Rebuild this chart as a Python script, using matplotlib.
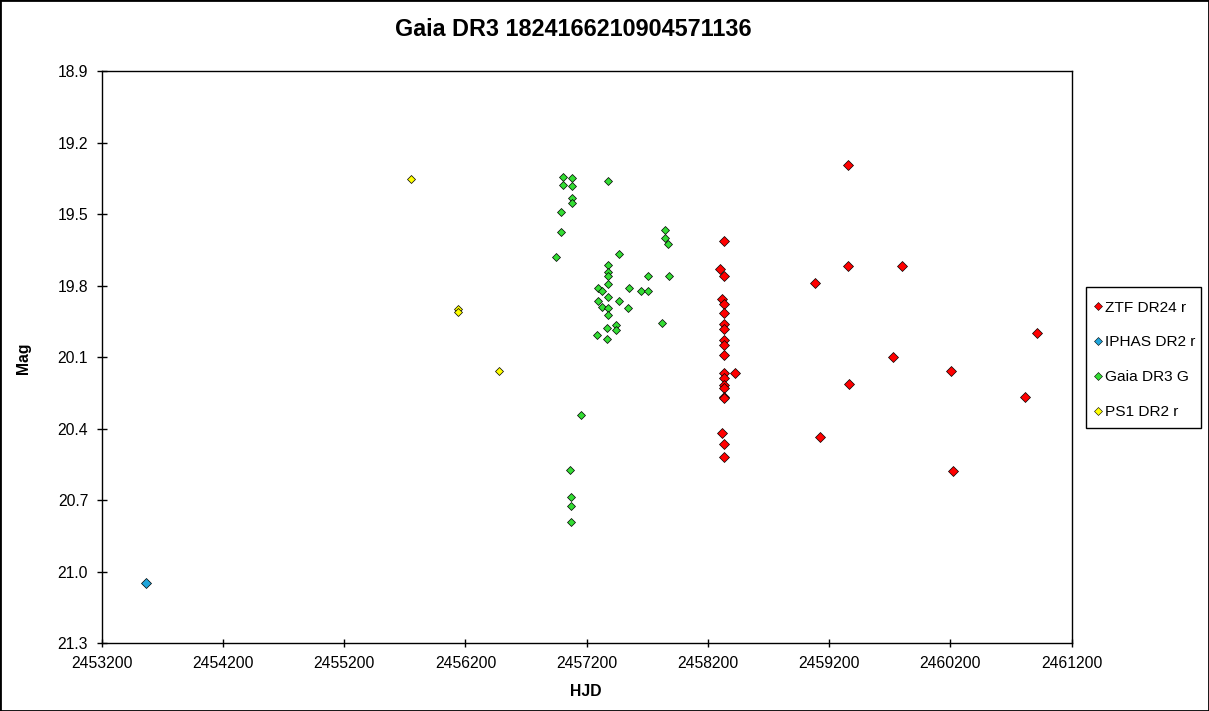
import matplotlib
matplotlib.use("Agg")
import matplotlib.pyplot as plt
from matplotlib.patches import Rectangle
from matplotlib.ticker import FormatStrFormatter, MultipleLocator
from matplotlib.lines import Line2D

plt.rcParams['font.family'] = ['Liberation Sans', 'DejaVu Sans']

# ZTF DR24 r
ztf_hjd = [2458335, 2458299, 2458335, 2458318, 2458335, 2458335, 2458335, 2458335,
           2458335, 2458335, 2458335, 2458335, 2458421, 2458335, 2458335, 2458335,
           2458335, 2458335, 2458318, 2458335, 2458335,
           2459358, 2459358, 2459803, 2459085, 2460914, 2459729, 2460207, 2459366,
           2460817, 2459122, 2460221]
ztf_mag = [19.611, 19.731, 19.758, 19.857, 19.878, 19.916, 19.962, 19.983,
           20.028, 20.050, 20.092, 20.167, 20.165, 20.188, 20.218, 20.228,
           20.266, 20.272, 20.419, 20.464, 20.517,
           19.294, 19.718, 19.718, 19.790, 19.999, 20.100, 20.159, 20.213,
           20.268, 20.436, 20.579]

# IPHAS DR2 r
iphas_hjd = [2453563]
iphas_mag = [21.046]

# Gaia DR3 G
gaia_hjd = [2457007, 2457081, 2457378, 2457007, 2457081, 2457081, 2457081, 2456988,
            2456988, 2457848, 2457848, 2457870, 2456947, 2457466, 2457378, 2457378,
            2457378, 2457378, 2457708, 2457876, 2457296, 2457329, 2457551, 2457648,
            2457708, 2457373, 2457296, 2457466, 2457329, 2457373, 2457543, 2457373,
            2457823, 2457444, 2457444, 2457370, 2457282, 2457370, 2457155, 2457065,
            2457073, 2457073, 2457073]
gaia_mag = [19.345, 19.349, 19.359, 19.376, 19.383, 19.430, 19.454, 19.492,
            19.576, 19.566, 19.601, 19.626, 19.678, 19.668, 19.714, 19.742,
            19.759, 19.793, 19.760, 19.760, 19.809, 19.823, 19.811, 19.823,
            19.823, 19.848, 19.864, 19.865, 19.889, 19.893, 19.893, 19.924,
            19.957, 19.965, 19.986, 19.978, 20.008, 20.022, 20.344, 20.574,
            20.688, 20.723, 20.790]

# PS1 DR2 r
ps1_hjd = [2455753, 2456141, 2456141, 2456479]
ps1_mag = [19.353, 19.897, 19.911, 20.156]

x_ticks = [2453200, 2454200, 2455200, 2456200, 2457200, 2458200, 2459200, 2460200, 2461200]

W, H = 1209, 711
fig = plt.figure(figsize=(12.09, 7.11), dpi=100)
ax = fig.add_axes([101.7 / W, 1 - 643.3 / H, 970 / W, 572 / H])

# plot series
ax.plot(ps1_hjd, ps1_mag, 'D', ms=4.1, mfc='#FFFF00', mec='black', mew=0.5, ls='none')
ax.plot(gaia_hjd, gaia_mag, 'D', ms=4.1, mfc='#33DD33', mec='black', mew=0.5, ls='none')
ax.plot(iphas_hjd, iphas_mag, 'D', ms=5.1, mfc='#1FA5DB', mec='black', mew=0.5, ls='none')
ax.plot(ztf_hjd, ztf_mag, 'D', ms=5.1, mfc='#FF0000', mec='black', mew=0.5, ls='none')

ax.set_xlim(2453200, 2461200)
ax.set_ylim(21.3, 18.9)
ax.set_xticks(x_ticks)
ax.set_xticklabels([str(t) for t in x_ticks])
ax.yaxis.set_major_locator(MultipleLocator(0.3))
ax.yaxis.set_major_formatter(FormatStrFormatter('%.1f'))
ax.tick_params(axis='x', direction='inout', length=6, width=1, labelsize=11.3, pad=6)
ax.tick_params(axis='y', direction='inout', length=7.5, width=1, labelsize=11.3, pad=6)
for s in ax.spines.values():
    s.set_linewidth(1)

fig.text(573 / W, 1 - 29 / H, 'Gaia DR3 1824166210904571136', ha='center', va='center',
         fontsize=16.8, fontweight='bold')
fig.text(586 / W, 1 - 692 / H, 'HJD', ha='center', va='center', fontsize=11.3, fontweight='bold')
fig.text(23 / W, 1 - 358 / H, 'Mag', ha='center', va='center', rotation=90,
         fontsize=11.3, fontweight='bold')

handles = [
    Line2D([], [], marker='D', ls='none', ms=4, mfc='#FF0000', mec='black', mew=0.4),
    Line2D([], [], marker='D', ls='none', ms=4, mfc='#1FA5DB', mec='black', mew=0.4),
    Line2D([], [], marker='D', ls='none', ms=4, mfc='#33DD33', mec='black', mew=0.4),
    Line2D([], [], marker='D', ls='none', ms=4, mfc='#FFFF00', mec='black', mew=0.4),
]
labels = ['ZTF DR24 r', 'IPHAS DR2 r', 'Gaia DR3 G', 'PS1 DR2 r']
fig.legend(handles, labels, loc='upper left', bbox_to_anchor=(1094 / W, 1 - 300.5 / H),
           fontsize=11.1, frameon=False, labelspacing=1.36, handlelength=0.5,
           handletextpad=0.2, borderpad=0, borderaxespad=0)

# legend box
fig.add_artist(Rectangle((1085.7 / W, 1 - 428 / H), 115 / W, 140.7 / H, transform=fig.transFigure,
                         fill=False, edgecolor='black', linewidth=1))

# outer border
fig.add_artist(Rectangle((0, 0), 1, 1, transform=fig.transFigure, fill=False,
                         edgecolor='black', linewidth=2))

fig.savefig('out.png', dpi=100)
